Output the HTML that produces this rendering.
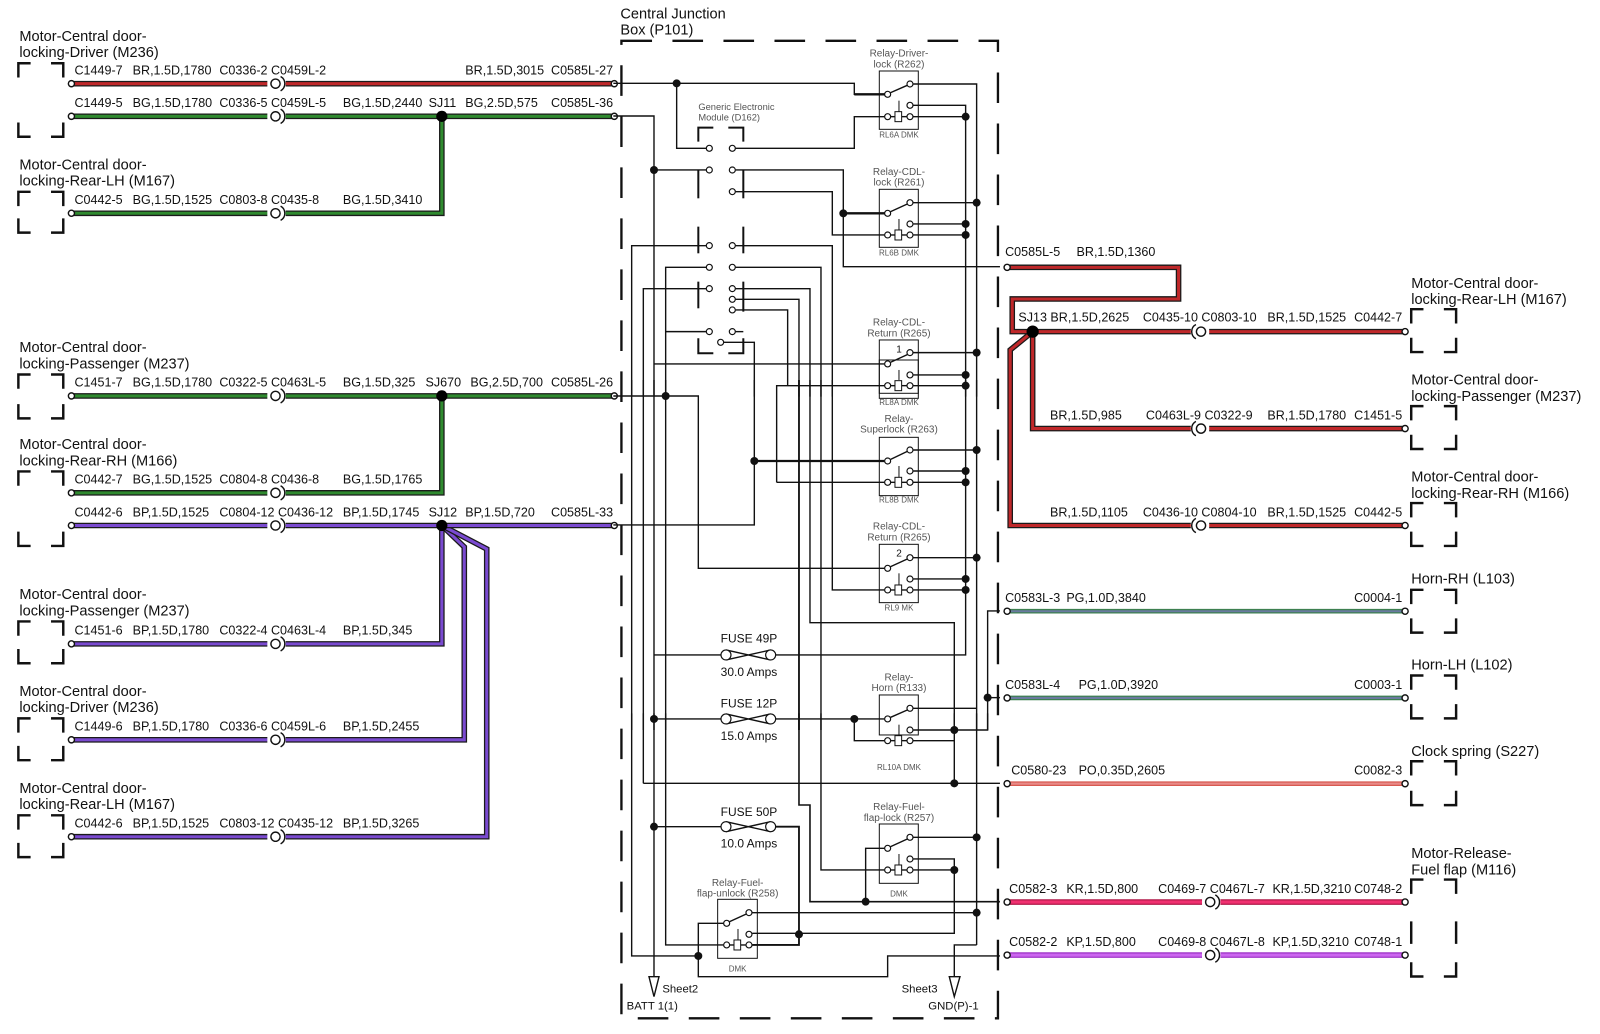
<!DOCTYPE html>
<html><head><meta charset="utf-8"><style>
html,body{margin:0;padding:0;background:#fff;}
svg{display:block}
text{font-family:"Liberation Sans",sans-serif;fill:#111}
.t{font-size:12.3px}
.n{font-size:14.3px}
.w{fill:none;stroke:#1a1a1a;stroke-width:5.5;stroke-linejoin:miter}
.c{fill:none;stroke-width:3;stroke-linejoin:miter}
.ic{fill:none;stroke:#111;stroke-width:2.4}
.l{fill:none;stroke:#111;stroke-width:4.2}
.lt{fill:none;stroke:#111;stroke-width:7}
.rl{font-size:30px;fill:#555;text-anchor:middle}
.rs{font-size:24px;fill:#555;text-anchor:middle}
.fz{font-size:36px;text-anchor:middle}
</style></head><body>
<svg width="1600" height="1034" viewBox="0 0 1600 1034" xmlns="http://www.w3.org/2000/svg">
<g transform="scale(1.0204)">
<path d="M609,40H978V998H609Z" fill="none" stroke="#111" stroke-width="2.3" stroke-dasharray="30,20"/>
<text class="n" x="608" y="18">Central Junction</text>
<text class="n" x="608" y="34">Box (P101)</text>

<g>
<polyline class="w" points="70,82 602,82"/><polyline class="c" stroke="#c0282a" points="70,82 602,82"/>
<polyline class="w" points="70,114 602,114"/><polyline class="c" stroke="#2f8a2f" points="70,114 602,114"/>
<polyline class="w" points="70,209 433,209 433,114"/><polyline class="c" stroke="#2f8a2f" points="70,209 433,209 433,114"/>
<polyline class="w" points="70,388 602,388"/><polyline class="c" stroke="#2f8a2f" points="70,388 602,388"/>
<polyline class="w" points="70,483 433,483 433,388"/><polyline class="c" stroke="#2f8a2f" points="70,483 433,483 433,388"/>
<polyline class="w" points="70,631 433,631 433,515"/><polyline class="c" stroke="#7a4ad0" points="70,631 433,631 433,515"/>
<polyline class="w" points="70,725 455,725 455,536 433,515"/><polyline class="c" stroke="#7a4ad0" points="70,725 455,725 455,536 433,515"/>
<polyline class="w" points="70,820 477,820 477,538 433,515"/><polyline class="c" stroke="#7a4ad0" points="70,820 477,820 477,538 433,515"/>
<polyline class="w" points="70,515 602,515"/><polyline class="c" stroke="#7a4ad0" points="70,515 602,515"/>
<circle cx="433" cy="114" r="5.5"/><circle cx="433" cy="388" r="5.5"/><circle cx="433" cy="515" r="5.5"/>
</g>
<g>
<polyline class="w" points="987,262 1155,262 1155,293 992,293 992,325 1377,325"/><polyline class="c" stroke="#c0282a" points="987,262 1155,262 1155,293 992,293 992,325 1377,325"/>
<polyline class="w" points="1012,325 1012,420 1377,420"/><polyline class="c" stroke="#c0282a" points="1012,325 1012,420 1377,420"/>
<polyline class="w" points="1012,325 990,343 990,515 1377,515"/><polyline class="c" stroke="#c0282a" points="1012,325 990,343 990,515 1377,515"/>
<circle cx="1012" cy="325" r="6"/>
<line x1="987" y1="599" x2="1377" y2="599" stroke="#3d8050" stroke-width="4.5"/><line x1="987" y1="599" x2="1377" y2="599" stroke="#6b7aa0" stroke-width="2"/>
<line x1="987" y1="684" x2="1377" y2="684" stroke="#3d8050" stroke-width="4.5"/><line x1="987" y1="684" x2="1377" y2="684" stroke="#6b7aa0" stroke-width="2"/>
<line x1="987" y1="768" x2="1377" y2="768" stroke="#d85a50" stroke-width="4.5"/><line x1="987" y1="768" x2="1377" y2="768" stroke="#e88a88" stroke-width="2"/>
<line x1="987" y1="884" x2="1377" y2="884" stroke="#b01848" stroke-width="5.5"/><line x1="987" y1="884" x2="1377" y2="884" stroke="#f03070" stroke-width="3"/>
<line x1="987" y1="936" x2="1377" y2="936" stroke="#a038c8" stroke-width="5.5"/><line x1="987" y1="936" x2="1377" y2="936" stroke="#cc66f0" stroke-width="3"/>
</g>
<g fill="#fff" stroke="#111" stroke-width="1.4">
<g>
<circle cx="70" cy="82" r="3"/><circle cx="70" cy="114" r="3"/><circle cx="70" cy="209" r="3"/><circle cx="70" cy="388" r="3"/><circle cx="70" cy="483" r="3"/><circle cx="70" cy="515" r="3"/><circle cx="70" cy="631" r="3"/><circle cx="70" cy="725" r="3"/><circle cx="70" cy="820" r="3"/>
<circle cx="602" cy="82" r="3"/><circle cx="602" cy="114" r="3"/><circle cx="602" cy="388" r="3"/><circle cx="602" cy="515" r="3"/>
<circle cx="987" cy="262" r="3"/><circle cx="987" cy="599" r="3"/><circle cx="987" cy="684" r="3"/><circle cx="987" cy="768" r="3"/><circle cx="987" cy="884" r="3"/><circle cx="987" cy="936" r="3"/>
<circle cx="1377" cy="325" r="3"/><circle cx="1377" cy="420" r="3"/><circle cx="1377" cy="515" r="3"/><circle cx="1377" cy="599" r="3"/><circle cx="1377" cy="684" r="3"/><circle cx="1377" cy="768" r="3"/><circle cx="1377" cy="884" r="3"/><circle cx="1377" cy="936" r="3"/>
</g>
<g>
<rect x="262" y="78" width="18" height="8" stroke="none"/><circle cx="270" cy="82" r="4.5"/><path d="M275,75a8,8 0 0 1 0,14" fill="none"/>
<rect x="262" y="110" width="18" height="8" stroke="none"/><circle cx="270" cy="114" r="4.5"/><path d="M275,107a8,8 0 0 1 0,14" fill="none"/>
<rect x="262" y="205" width="18" height="8" stroke="none"/><circle cx="270" cy="209" r="4.5"/><path d="M275,202a8,8 0 0 1 0,14" fill="none"/>
<rect x="262" y="384" width="18" height="8" stroke="none"/><circle cx="270" cy="388" r="4.5"/><path d="M275,381a8,8 0 0 1 0,14" fill="none"/>
<rect x="262" y="479" width="18" height="8" stroke="none"/><circle cx="270" cy="483" r="4.5"/><path d="M275,476a8,8 0 0 1 0,14" fill="none"/>
<rect x="262" y="511" width="18" height="8" stroke="none"/><circle cx="270" cy="515" r="4.5"/><path d="M275,508a8,8 0 0 1 0,14" fill="none"/>
<rect x="262" y="627" width="18" height="8" stroke="none"/><circle cx="270" cy="631" r="4.5"/><path d="M275,624a8,8 0 0 1 0,14" fill="none"/>
<rect x="262" y="721" width="18" height="8" stroke="none"/><circle cx="270" cy="725" r="4.5"/><path d="M275,718a8,8 0 0 1 0,14" fill="none"/>
<rect x="262" y="816" width="18" height="8" stroke="none"/><circle cx="270" cy="820" r="4.5"/><path d="M275,813a8,8 0 0 1 0,14" fill="none"/>
<rect x="1167" y="321" width="18" height="8" stroke="none"/><circle cx="1177" cy="325" r="4.5"/><path d="M1172,318a8,8 0 0 0 0,14" fill="none"/>
<rect x="1167" y="416" width="18" height="8" stroke="none"/><circle cx="1177" cy="420" r="4.5"/><path d="M1172,413a8,8 0 0 0 0,14" fill="none"/>
<rect x="1167" y="511" width="18" height="8" stroke="none"/><circle cx="1177" cy="515" r="4.5"/><path d="M1172,508a8,8 0 0 0 0,14" fill="none"/>
<rect x="1178" y="880" width="18" height="8" stroke="none"/><circle cx="1186" cy="884" r="4.5"/><path d="M1191,877a8,8 0 0 1 0,14" fill="none"/>
<rect x="1178" y="932" width="18" height="8" stroke="none"/><circle cx="1186" cy="936" r="4.5"/><path d="M1191,929a8,8 0 0 1 0,14" fill="none"/>
</g>
</g>
<g class="ic" fill="none" stroke="#111" stroke-width="2.4">
<path d="M18,76V62H30M50,62H62V76M18,120V134H30M50,134H62V120"/>
<path d="M18,202V188H30M50,188H62V202M18,214V228H30M50,228H62V214"/>
<path d="M18,381V367H30M50,367H62V381M18,396V410H30M50,410H62V396"/>
<path d="M18,476V462H30M50,462H62V476M18,521V535H30M50,535H62V521"/>
<path d="M18,623V609H30M50,609H62V623M18,636V650H30M50,650H62V636"/>
<path d="M18,718V704H30M50,704H62V718M18,731V745H30M50,745H62V731"/>
<path d="M18,813V799H30M50,799H62V813M18,826V840H30M50,840H62V826"/>
<path d="M1383,317V303H1395M1415,303H1427V317M1383,331V345H1395M1415,345H1427V331"/>
<path d="M1383,412V398H1395M1415,398H1427V412M1383,426V440H1395M1415,440H1427V426"/>
<path d="M1383,507V493H1395M1415,493H1427V507M1383,521V535H1395M1415,535H1427V521"/>
<path d="M1383,592V578H1395M1415,578H1427V592M1383,606V620H1395M1415,620H1427V606"/>
<path d="M1383,676V662H1395M1415,662H1427V676M1383,690V704H1395M1415,704H1427V690"/>
<path d="M1383,760V746H1395M1415,746H1427V760M1383,775V789H1395M1415,789H1427V775"/>
<path d="M1383,876V862H1395M1415,862H1427V876M1383,903V925M1427,903V925M1383,943V957H1395M1415,957H1427V943"/>
</g>
<g class="n">
<text x="19" y="40">Motor-Central door-</text><text x="19" y="56">locking-Driver (M236)</text>
<text x="19" y="166">Motor-Central door-</text><text x="19" y="182">locking-Rear-LH (M167)</text>
<text x="19" y="345">Motor-Central door-</text><text x="19" y="361">locking-Passenger (M237)</text>
<text x="19" y="440">Motor-Central door-</text><text x="19" y="456">locking-Rear-RH (M166)</text>
<text x="19" y="587">Motor-Central door-</text><text x="19" y="603">locking-Passenger (M237)</text>
<text x="19" y="682">Motor-Central door-</text><text x="19" y="698">locking-Driver (M236)</text>
<text x="19" y="777">Motor-Central door-</text><text x="19" y="793">locking-Rear-LH (M167)</text>
<text x="1383" y="282">Motor-Central door-</text><text x="1383" y="298">locking-Rear-LH (M167)</text>
<text x="1383" y="377">Motor-Central door-</text><text x="1383" y="393">locking-Passenger (M237)</text>
<text x="1383" y="472">Motor-Central door-</text><text x="1383" y="488">locking-Rear-RH (M166)</text>
<text x="1383" y="572">Horn-RH (L103)</text>
<text x="1383" y="656">Horn-LH (L102)</text>
<text x="1383" y="741">Clock spring (S227)</text>
<text x="1383" y="841">Motor-Release-</text><text x="1383" y="857">Fuel flap (M116)</text>
</g>
<g class="t">
<text x="73" y="73">C1449-7</text><text x="130" y="73">BR,1.5D,1780</text><text x="215" y="73">C0336-2 C0459L-2</text><text x="456" y="73">BR,1.5D,3015</text><text x="540" y="73">C0585L-27</text>
<text x="73" y="105">C1449-5</text><text x="130" y="105">BG,1.5D,1780</text><text x="215" y="105">C0336-5 C0459L-5</text><text x="336" y="105">BG,1.5D,2440</text><text x="420" y="105">SJ11</text><text x="456" y="105">BG,2.5D,575</text><text x="540" y="105">C0585L-36</text>
<text x="73" y="200">C0442-5</text><text x="130" y="200">BG,1.5D,1525</text><text x="215" y="200">C0803-8 C0435-8</text><text x="336" y="200">BG,1.5D,3410</text>
<text x="73" y="379">C1451-7</text><text x="130" y="379">BG,1.5D,1780</text><text x="215" y="379">C0322-5 C0463L-5</text><text x="336" y="379">BG,1.5D,325</text><text x="417" y="379">SJ670</text><text x="461" y="379">BG,2.5D,700</text><text x="540" y="379">C0585L-26</text>
<text x="73" y="474">C0442-7</text><text x="130" y="474">BG,1.5D,1525</text><text x="215" y="474">C0804-8 C0436-8</text><text x="336" y="474">BG,1.5D,1765</text>
<text x="73" y="506">C0442-6</text><text x="130" y="506">BP,1.5D,1525</text><text x="215" y="506">C0804-12 C0436-12</text><text x="336" y="506">BP,1.5D,1745</text><text x="420" y="506">SJ12</text><text x="456" y="506">BP,1.5D,720</text><text x="540" y="506">C0585L-33</text>
<text x="73" y="622">C1451-6</text><text x="130" y="622">BP,1.5D,1780</text><text x="215" y="622">C0322-4 C0463L-4</text><text x="336" y="622">BP,1.5D,345</text>
<text x="73" y="716">C1449-6</text><text x="130" y="716">BP,1.5D,1780</text><text x="215" y="716">C0336-6 C0459L-6</text><text x="336" y="716">BP,1.5D,2455</text>
<text x="73" y="811">C0442-6</text><text x="130" y="811">BP,1.5D,1525</text><text x="215" y="811">C0803-12 C0435-12</text><text x="336" y="811">BP,1.5D,3265</text>
<text x="985" y="251">C0585L-5</text><text x="1055" y="251">BR,1.5D,1360</text>
<text x="998" y="315">SJ13 BR,1.5D,2625</text><text x="1120" y="315">C0435-10 C0803-10</text><text x="1242" y="315">BR,1.5D,1525</text><text x="1327" y="315">C0442-7</text>
<text x="1029" y="411">BR,1.5D,985</text><text x="1123" y="411">C0463L-9 C0322-9</text><text x="1242" y="411">BR,1.5D,1780</text><text x="1327" y="411">C1451-5</text>
<text x="1029" y="506">BR,1.5D,1105</text><text x="1120" y="506">C0436-10 C0804-10</text><text x="1242" y="506">BR,1.5D,1525</text><text x="1327" y="506">C0442-5</text>
<text x="985" y="590">C0583L-3</text><text x="1045" y="590">PG,1.0D,3840</text><text x="1327" y="590">C0004-1</text>
<text x="985" y="675">C0583L-4</text><text x="1057" y="675">PG,1.0D,3920</text><text x="1327" y="675">C0003-1</text>
<text x="991" y="759">C0580-23</text><text x="1057" y="759">PO,0.35D,2605</text><text x="1327" y="759">C0082-3</text>
<text x="989" y="875">C0582-3</text><text x="1045" y="875">KR,1.5D,800</text><text x="1135" y="875">C0469-7 C0467L-7</text><text x="1247" y="875">KR,1.5D,3210</text><text x="1327" y="875">C0748-2</text>
<text x="989" y="927">C0582-2</text><text x="1045" y="927">KP,1.5D,800</text><text x="1135" y="927">C0469-8 C0467L-8</text><text x="1247" y="927">KP,1.5D,3210</text><text x="1327" y="927">C0748-1</text>
</g>
</g>

<g transform="translate(600,30) scale(0.3333)">
<g fill="none" stroke="#111" stroke-width="4.2">
<polyline points="40,160 763,160 763,193 860,193"/>
<polyline class="lt" points="763,193 860,193"/>
<polyline points="230,160 230,355 318,355"/>
<line x1="872" y1="188" x2="922" y2="166"/>
<polyline points="940,162 1130,162 1130,1100"/>
<polyline points="940,226 1097,226 1097,1100"/>
<polyline points="940,260 1097,260"/>
<polyline points="853,260 763,260 763,355 407,355"/>
<rect x="838" y="123" width="117" height="175" stroke-width="3"/>
<rect x="885" y="245" width="20" height="30" stroke-width="3"/><line x1="897" y1="212" x2="897" y2="245" stroke-width="3"/>
<line x1="873" y1="260" x2="885" y2="260"/><line x1="905" y1="260" x2="920" y2="260"/>
<path d="M295,335V293H340M385,293H430V335" stroke-width="6"/>
<polyline points="40,258 162,258 162,1100"/>
<polyline points="162,420 318,420"/>
<line x1="295" y1="420" x2="295" y2="505" stroke-width="6"/><line x1="430" y1="420" x2="430" y2="505" stroke-width="6"/>
<polyline points="407,420 730,420 730,710 1200,710"/>
<polyline class="lt" points="730,550 860,550"/>
<polyline points="407,485 697,485 697,615 853,615"/>
<rect x="838" y="478" width="117" height="174" stroke-width="3"/>
<line x1="872" y1="545" x2="922" y2="522"/>
<polyline points="940,518 1130,518"/>
<polyline points="940,582 1097,582"/><polyline points="940,615 1097,615"/>
<rect x="885" y="600" width="20" height="30" stroke-width="3"/><line x1="897" y1="567" x2="897" y2="600" stroke-width="3"/>
<line x1="873" y1="615" x2="885" y2="615"/><line x1="905" y1="615" x2="920" y2="615"/>
<line x1="295" y1="590" x2="295" y2="670" stroke-width="6"/><line x1="430" y1="590" x2="430" y2="670" stroke-width="6"/>
<polyline points="95,1100 95,647 318,647"/><polyline points="407,647 697,647 697,1100"/>
<polyline points="197,1100 197,712 318,712"/><polyline points="407,712 663,712 663,1100"/>
<line x1="295" y1="755" x2="295" y2="835" stroke-width="6"/><line x1="430" y1="755" x2="430" y2="845" stroke-width="6"/>
<polyline points="130,1100 130,776 318,776"/><polyline points="407,776 630,776 630,1100"/>
<polyline points="407,808 597,808 597,1100"/><polyline points="407,840 563,840 563,1067"/>
<polyline points="197,905 318,905"/>
<path d="M295,925V970H340M385,970H430V925" stroke-width="6"/>
<line x1="407" y1="905" x2="430" y2="905"/>
<polyline points="372,937 463,937 463,1100"/>
<polyline points="162,1002 853,1002"/>
<rect x="838" y="930" width="117" height="160" stroke-width="3"/>
<line x1="872" y1="997" x2="922" y2="974"/>
<polyline points="940,968 1130,968"/><polyline points="940,1035 1097,1035"/>
<line x1="897" y1="1020" x2="897" y2="1050" stroke-width="3"/>
</g>
<g fill="#fff" stroke="#111" stroke-width="3.5">
<circle cx="863" cy="193" r="9"/><circle cx="930" cy="162" r="9"/><circle cx="930" cy="226" r="9"/><circle cx="863" cy="260" r="9"/><circle cx="930" cy="260" r="9"/>
<circle cx="328" cy="355" r="9"/><circle cx="397" cy="355" r="9"/><circle cx="328" cy="420" r="9"/><circle cx="397" cy="420" r="9"/><circle cx="397" cy="485" r="9"/>
<circle cx="863" cy="550" r="9"/><circle cx="930" cy="518" r="9"/><circle cx="930" cy="582" r="9"/><circle cx="863" cy="615" r="9"/><circle cx="930" cy="615" r="9"/>
<circle cx="328" cy="647" r="9"/><circle cx="397" cy="647" r="9"/><circle cx="328" cy="712" r="9"/><circle cx="397" cy="712" r="9"/>
<circle cx="328" cy="776" r="9"/><circle cx="397" cy="776" r="9"/><circle cx="397" cy="808" r="9"/><circle cx="397" cy="840" r="9"/>
<circle cx="328" cy="905" r="9"/><circle cx="397" cy="905" r="9"/><circle cx="362" cy="937" r="9"/>
<circle cx="863" cy="1002" r="9"/><circle cx="930" cy="968" r="9"/><circle cx="930" cy="1035" r="9"/>
</g>
<g fill="#111">
<circle cx="230" cy="160" r="12"/><circle cx="1097" cy="260" r="12"/><circle cx="162" cy="420" r="12"/><circle cx="730" cy="550" r="12"/>
<circle cx="1130" cy="518" r="12"/><circle cx="1097" cy="582" r="12"/><circle cx="1097" cy="615" r="12"/><circle cx="1130" cy="968" r="12"/><circle cx="1097" cy="1035" r="12"/>
</g>
<text class="rl" x="897" y="80">Relay-Driver-</text><text class="rl" x="897" y="112">lock (R262)</text><text class="rs" x="897" y="322">RL6A DMK</text>
<text x="295" y="240" style="font-size:28px;fill:#555">Generic Electronic</text><text x="295" y="272" style="font-size:28px;fill:#555">Module (D162)</text>
<text class="rl" x="897" y="435">Relay-CDL-</text><text class="rl" x="897" y="467">lock (R261)</text><text class="rs" x="897" y="677">RL6B DMK</text>
<text class="rl" x="897" y="887">Relay-CDL-</text><text class="rl" x="897" y="919">Return (R265)</text>
<text x="897" y="968" style="font-size:30px;text-anchor:middle">1</text>
</g>

<g transform="translate(600,380) scale(0.3333)">
<g fill="none" stroke="#111" stroke-width="4.2">
<polyline points="530,307 530,17 853,17"/><polyline points="940,17 1097,17"/>
<rect x="838" y="-60" width="117" height="115" stroke-width="3"/>
<rect x="885" y="2" width="20" height="30" stroke-width="3"/>
<line x1="905" y1="17" x2="920" y2="17"/><line x1="873" y1="17" x2="885" y2="17"/>
<polyline points="40,48 295,48 295,565 853,565"/>
<line x1="95" y1="0" x2="95" y2="1050"/><line x1="130" y1="0" x2="130" y2="1050"/><line x1="162" y1="0" x2="162" y2="1050"/><line x1="197" y1="0" x2="197" y2="1050"/>
<line x1="597" y1="0" x2="597" y2="1050" stroke-width="5.5"/>
<polyline points="630,0 630,728 1063,728 1063,1050"/>
<polyline points="463,0 463,435 40,435"/>
<polyline class="lt" points="463,243 853,243"/>
<polyline points="530,307 853,307"/>
<polyline points="697,0 697,630 853,630"/>
<line x1="663" y1="0" x2="663" y2="1050"/>
<rect x="838" y="172" width="117" height="175" stroke-width="3"/>
<line x1="872" y1="238" x2="922" y2="214"/>
<polyline points="940,210 1130,210"/><polyline points="940,273 1097,273"/><polyline points="940,307 1097,307"/>
<rect x="885" y="292" width="20" height="30" stroke-width="3"/><line x1="897" y1="258" x2="897" y2="292" stroke-width="3"/>
<line x1="905" y1="307" x2="920" y2="307"/><line x1="873" y1="307" x2="885" y2="307"/>
<rect x="838" y="493" width="117" height="175" stroke-width="3"/>
<line x1="872" y1="560" x2="922" y2="537"/>
<polyline points="940,533 1130,533"/><polyline points="940,597 1097,597"/><polyline points="940,630 1097,630"/>
<rect x="885" y="615" width="20" height="30" stroke-width="3"/><line x1="897" y1="580" x2="897" y2="615" stroke-width="3"/>
<line x1="905" y1="630" x2="920" y2="630"/><line x1="873" y1="630" x2="885" y2="630"/>
<polyline points="1097,0 1097,825 520,825"/><line x1="1130" y1="0" x2="1130" y2="1050"/>
<polyline points="375,825 162,825"/>
<polyline points="162,1017 375,1017"/><polyline points="520,1017 853,1017"/>
<polyline points="1200,693 1163,693 1163,1050"/><line x1="1163" y1="953" x2="1200" y2="953"/>
<rect x="838" y="945" width="117" height="120" stroke-width="3"/>
<line x1="872" y1="1012" x2="922" y2="990"/>
<polyline points="940,985 1130,985"/>
<path d="M378,810L512,840M378,840L512,810"/>
<path d="M378,1002L512,1032M378,1032L512,1002"/>
</g>
<g fill="#fff" stroke="#111" stroke-width="3.5">
<circle cx="863" cy="17" r="9"/><circle cx="930" cy="17" r="9"/>
<circle cx="863" cy="243" r="9"/><circle cx="930" cy="210" r="9"/><circle cx="930" cy="273" r="9"/><circle cx="863" cy="307" r="9"/><circle cx="930" cy="307" r="9"/>
<circle cx="863" cy="565" r="9"/><circle cx="930" cy="533" r="9"/><circle cx="930" cy="597" r="9"/><circle cx="863" cy="630" r="9"/><circle cx="930" cy="630" r="9"/>
<circle cx="378" cy="825" r="15"/><circle cx="512" cy="825" r="15"/>
<circle cx="378" cy="1017" r="15"/><circle cx="512" cy="1017" r="15"/>
<circle cx="863" cy="1017" r="9"/><circle cx="930" cy="985" r="9"/>
</g>
<g fill="#111">
<circle cx="1097" cy="17" r="12"/><circle cx="197" cy="48" r="12"/><circle cx="463" cy="243" r="12"/><circle cx="1130" cy="210" r="12"/><circle cx="1097" cy="273" r="12"/><circle cx="1097" cy="307" r="12"/>
<circle cx="1130" cy="533" r="12"/><circle cx="1097" cy="597" r="12"/><circle cx="1097" cy="630" r="12"/>
<circle cx="162" cy="1017" r="12"/><circle cx="763" cy="1017" r="12"/><circle cx="1163" cy="953" r="12"/>
</g>
<text class="rs" x="897" y="75">RL8A DMK</text>
<text class="rl" x="897" y="126">Relay-</text><text class="rl" x="897" y="158">Superlock (R263)</text><text class="rs" x="897" y="368">RL8B DMK</text>
<text class="rl" x="897" y="448">Relay-CDL-</text><text class="rl" x="897" y="481">Return (R265)</text><text class="rs" x="897" y="692">RL9 MK</text>
<text x="897" y="530" style="font-size:30px;text-anchor:middle">2</text>
<text class="fz" x="447" y="788">FUSE 49P</text><text class="fz" x="447" y="888">30.0 Amps</text>
<text class="rl" x="897" y="901">Relay-</text><text class="rl" x="897" y="933">Horn (R133)</text>
<text class="fz" x="447" y="982">FUSE 12P</text>
</g>

<g transform="translate(600,720) scale(0.3333)">
<g fill="none" stroke="#111" stroke-width="4.2">
<polyline points="95,-20 95,708 295,708"/><line x1="130" y1="-20" x2="130" y2="190"/><polyline points="162,-20 162,775"/><polyline points="197,-20 197,675 370,675"/>
<polyline points="597,-20 597,255 630,255 630,545 1200,545" stroke-width="4.8"/>
<polyline points="663,-20 663,450 853,450"/>
<polyline points="1063,-20 1063,190"/>
<polyline points="1163,-20 1163,30 940,30"/>
<polyline points="763,0 763,62 853,62"/><polyline points="940,62 1063,62"/>
<rect x="885" y="47" width="20" height="30" stroke-width="3"/><line x1="897" y1="14" x2="897" y2="47" stroke-width="3"/>
<line x1="905" y1="62" x2="920" y2="62"/><line x1="873" y1="62" x2="885" y2="62"/>
<polyline points="130,190 1200,190"/>
<polyline points="162,320 375,320"/><polyline points="520,320 597,320 597,675 457,675" stroke-width="5.5"/>
<path d="M378,305L512,335M378,335L512,305"/>
<rect x="838" y="312" width="117" height="178" stroke-width="3"/>
<line x1="872" y1="380" x2="922" y2="357"/>
<polyline points="940,352 1130,352"/>
<polyline points="853,385 797,385 797,545"/>
<rect x="885" y="435" width="20" height="30" stroke-width="3"/><line x1="897" y1="402" x2="897" y2="435" stroke-width="3"/>
<line x1="905" y1="450" x2="920" y2="450"/><line x1="873" y1="450" x2="885" y2="450"/>
<polyline points="940,417 1063,417 1063,640 457,640"/><polyline points="940,450 1063,450"/>
<line x1="1130" y1="-20" x2="1130" y2="675"/><polyline points="1130,675 1063,675 1063,770"/>
<rect x="353" y="538" width="119" height="177" stroke-width="3"/>
<line x1="389" y1="605" x2="439" y2="582"/>
<polyline points="457,578 1130,578"/>
<polyline points="370,610 295,610 295,770 863,770 863,708 1200,708"/>
<rect x="402" y="660" width="20" height="30" stroke-width="3"/><line x1="414" y1="627" x2="414" y2="660" stroke-width="3"/>
<line x1="390" y1="675" x2="402" y2="675"/><line x1="422" y1="675" x2="437" y2="675"/>
<path d="M147,770H177L162,830Z" fill="#fff"/>
<path d="M1048,770H1080L1063,830Z" fill="#fff"/>
</g>
<g fill="#fff" stroke="#111" stroke-width="3.5">
<circle cx="930" cy="30" r="9"/><circle cx="863" cy="62" r="9"/><circle cx="930" cy="62" r="9"/>
<circle cx="378" cy="320" r="15"/><circle cx="512" cy="320" r="15"/>
<circle cx="863" cy="385" r="9"/><circle cx="930" cy="352" r="9"/><circle cx="930" cy="417" r="9"/><circle cx="863" cy="450" r="9"/><circle cx="930" cy="450" r="9"/>
<circle cx="380" cy="610" r="9"/><circle cx="447" cy="578" r="9"/><circle cx="447" cy="643" r="9"/><circle cx="380" cy="675" r="9"/><circle cx="447" cy="675" r="9"/>
</g>
<g fill="#111">
<circle cx="1063" cy="30" r="12"/><circle cx="1063" cy="190" r="12"/><circle cx="162" cy="320" r="12"/>
<circle cx="1130" cy="352" r="12"/><circle cx="1063" cy="450" r="12"/><circle cx="797" cy="545" r="12"/><circle cx="1130" cy="578" r="12"/>
<circle cx="597" cy="643" r="12"/><circle cx="295" cy="708" r="12"/>
</g>
<text class="fz" x="447" y="60">15.0 Amps</text>
<text class="rs" x="897" y="150">RL10A DMK</text>
<text class="fz" x="447" y="288">FUSE 50P</text><text class="fz" x="447" y="383">10.0 Amps</text>
<text class="rl" x="897" y="270">Relay-Fuel-</text><text class="rl" x="897" y="303">flap-lock (R257)</text><text class="rs" x="897" y="530">DMK</text>
<text class="rl" x="413" y="498">Relay-Fuel-</text><text class="rl" x="413" y="530">flap-unlock (R258)</text><text class="rs" x="413" y="755">DMK</text>
<text x="187" y="818" style="font-size:34px">Sheet2</text><text x="80" y="868" style="font-size:34px">BATT 1(1)</text>
<text x="905" y="818" style="font-size:34px">Sheet3</text><text x="985" y="868" style="font-size:34px">GND(P)-1</text>
</g>
</svg>
</body></html>
